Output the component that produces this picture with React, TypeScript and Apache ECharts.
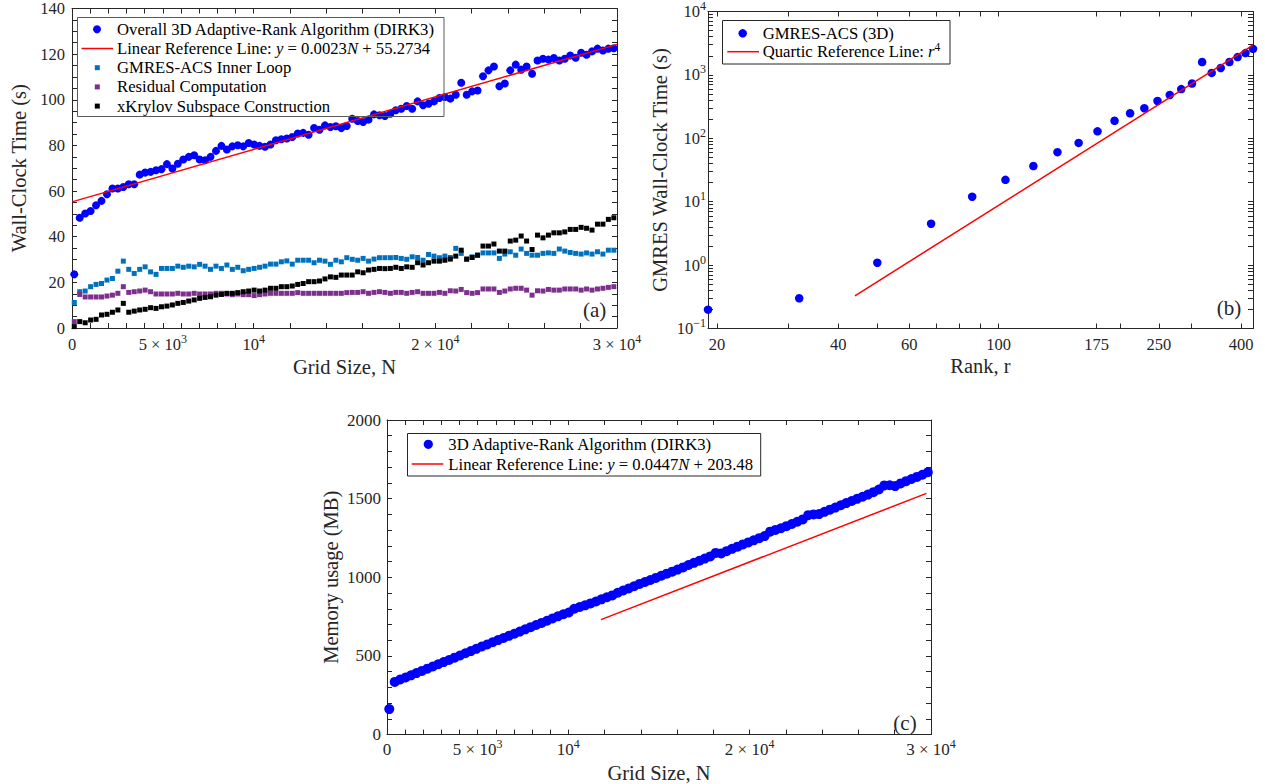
import React, { useEffect, useRef } from 'react';
import * as echarts from 'echarts';

// ---------------- DATA ----------------
// Panel (a) & (c): grid sizes N
const gridSizes = [
  125, 425, 725, 1025, 1325, 1625, 1925, 2225, 2525, 2825,
  3125, 3425, 3725, 4025, 4325, 4625, 4925, 5225, 5525, 5825,
  6125, 6425, 6725, 7025, 7325, 7625, 7925, 8225, 8525, 8825,
  9125, 9425, 9725, 10025, 10325, 10625, 10925, 11225, 11525, 11825,
  12125, 12425, 12725, 13025, 13325, 13625, 13925, 14225, 14525, 14825,
  15125, 15425, 15725, 16025, 16325, 16625, 16925, 17225, 17525, 17825,
  18125, 18425, 18725, 19025, 19325, 19625, 19925, 20225, 20525, 20825,
  21125, 21425, 21725, 22025, 22325, 22625, 22925, 23225, 23525, 23825,
  24125, 24425, 24725, 25025, 25325, 25625, 25925, 26225, 26525, 26825,
  27125, 27425, 27725, 28025, 28325, 28625, 28925, 29225, 29525, 29825,
];

const overallTime = [
  23.5, 48.3, 50.2, 51.3, 53.8, 55.7, 58.6, 61.1, 61.1, 61.8,
  63.0, 63.0, 67.2, 68.1, 68.4, 69.1, 69.6, 71.8, 69.9, 72.0,
  73.8, 75.0, 75.7, 73.8, 73.5, 75.0, 77.6, 79.8, 78.2, 79.6,
  80.1, 79.6, 81.1, 80.4, 79.8, 79.4, 80.4, 82.3, 82.7, 83.0,
  83.7, 85.2, 85.5, 84.7, 87.6, 86.9, 88.8, 88.1, 88.4, 87.6,
  88.5, 91.7, 90.7, 90.3, 91.3, 93.6, 93.2, 92.9, 93.9, 95.4,
  96.1, 97.3, 96.1, 99.3, 97.6, 98.3, 99.3, 100.8, 101.2, 100.5,
  102.2, 107.5, 102.2, 103.7, 104.1, 110.3, 112.9, 114.6, 105.9, 107.1,
  112.9, 115.4, 113.2, 114.6, 111.4, 117.2, 118.0, 117.6, 118.3, 117.2,
  118.0, 119.4, 118.4, 120.6, 119.7, 121.2, 122.4, 121.6, 122.4, 122.6,
];

const gmresInnerTime = [
  11.2, 15.9, 16.2, 18.1, 19.1, 19.5, 21.0, 21.7, 24.9, 29.3,
  25.7, 23.9, 25.7, 26.8, 24.6, 23.5, 26.1, 26.1, 26.1, 27.1,
  26.6, 27.1, 26.8, 27.9, 27.1, 25.7, 27.1, 26.1, 27.6, 25.7,
  26.6, 25.1, 25.7, 26.1, 26.6, 27.1, 28.0, 28.0, 29.0, 29.4,
  28.0, 29.7, 29.7, 29.7, 28.6, 29.7, 29.3, 27.9, 29.7, 29.0,
  30.8, 30.1, 29.7, 30.5, 29.3, 30.2, 30.8, 30.8, 30.8, 30.9,
  30.5, 30.1, 31.2, 30.9, 29.7, 32.2, 31.5, 30.8, 31.5, 30.9,
  34.9, 32.7, 30.1, 31.2, 31.9, 32.9, 32.9, 32.9, 30.5, 32.4,
  33.4, 31.9, 34.6, 32.7, 31.9, 31.9, 32.7, 32.9, 32.7, 34.6,
  33.7, 33.1, 32.7, 32.4, 32.9, 32.4, 33.4, 32.4, 34.1, 34.1,
];

const residualTime = [
  2.8, 14.7, 13.6, 13.6, 13.6, 13.6, 14.0, 14.4, 15.2, 18.1,
  15.6, 15.9, 16.2, 16.6, 15.9, 14.9, 14.9, 14.9, 14.9, 15.2,
  14.9, 14.9, 15.2, 14.9, 14.9, 14.9, 15.2, 15.2, 14.9, 14.6,
  14.9, 14.6, 14.6, 14.2, 14.6, 14.9, 15.2, 15.2, 15.2, 15.2,
  15.2, 15.5, 15.2, 15.2, 15.2, 15.2, 15.2, 15.2, 15.2, 15.2,
  15.5, 15.6, 15.6, 15.9, 15.2, 15.6, 15.9, 15.6, 15.2, 15.6,
  15.6, 15.2, 15.6, 15.9, 15.2, 15.2, 15.2, 15.6, 15.2, 16.3,
  16.2, 16.9, 15.5, 15.2, 15.5, 17.1, 17.1, 17.1, 15.6, 16.2,
  17.1, 17.4, 17.4, 16.6, 14.4, 16.3, 16.2, 16.9, 16.6, 16.6,
  17.1, 17.1, 17.1, 16.6, 17.1, 16.6, 17.1, 17.4, 17.8, 18.1,
];

const krylovTime = [
  0.6, 2.8, 2.3, 3.5, 3.8, 5.7, 6.0, 6.9, 7.9, 10.8,
  6.9, 7.4, 7.9, 8.2, 8.9, 8.6, 9.3, 9.6, 10.1, 10.8,
  11.2, 11.8, 12.3, 13.0, 13.4, 13.7, 14.4, 14.7, 15.2, 15.2,
  15.5, 15.9, 16.2, 16.6, 16.2, 16.6, 17.4, 17.4, 18.1, 18.1,
  18.4, 19.1, 19.5, 20.3, 20.3, 20.6, 21.5, 22.4, 22.2, 23.2,
  23.2, 23.2, 24.6, 24.2, 25.4, 25.7, 26.1, 26.0, 26.1, 26.6,
  26.1, 26.8, 26.6, 28.6, 27.6, 28.6, 29.3, 29.3, 29.7, 30.2,
  31.5, 34.1, 30.2, 30.9, 31.9, 35.9, 35.9, 36.8, 33.7, 33.7,
  38.1, 38.5, 40.3, 38.1, 34.4, 40.7, 39.5, 40.7, 41.7, 41.7,
  42.1, 43.2, 43.2, 44.1, 43.7, 42.9, 45.5, 45.5, 47.6, 48.3,
];

// Linear reference line (a): y = 0.0023N + 55.2734
const refLineAN = [0, 30000];
const refLineAT = [55.2734, 124.2734];

// Panel (b)
const ranks = [19, 32, 50, 68, 86, 104, 122, 140, 158, 176, 194, 212, 230, 248, 266, 284, 302, 320, 338, 356, 374, 392, 410, 428];
const gmresTimes = [0.198, 0.30, 1.09, 4.49, 11.97, 22.1, 36.5, 60.4, 84.5, 128.6, 189, 248, 298, 388, 482, 597, 731, 1596, 1075, 1285, 1596, 1910, 2208, 2578];
const refLineBRank = [44, 428];
const refLineBTime = [0.328, 2938];

// Panel (c)
const memoryUsage = [
  162, 335, 350, 363, 377, 391, 405, 419, 433, 447,
  461, 474, 489, 503, 517, 531, 545, 560, 573, 587,
  601, 614, 628, 641, 655, 669, 683, 697, 710, 724,
  738, 752, 765, 776, 800, 811, 822, 834, 846, 860,
  873, 885, 902, 916, 929, 943, 958, 970, 983, 996,
  1010, 1023, 1036, 1049, 1063, 1078, 1092, 1105, 1119, 1133,
  1155, 1152, 1166, 1181, 1195, 1209, 1222, 1235, 1249, 1262,
  1290, 1301, 1312, 1325, 1339, 1353, 1368, 1395, 1400, 1402,
  1416, 1430, 1443, 1458, 1472, 1485, 1499, 1512, 1526, 1541,
  1558, 1584, 1585, 1580, 1597, 1611, 1625, 1638, 1652, 1668,
];
// Linear reference line (c): y = 0.0447N + 203.48
const refLineCN = [11800, 29750];
const refLineCMem = [730.9, 1533.3];

// Ticks
const gridTicks = [0, 1000, 2000, 3000, 4000, 5000, 6000, 7000, 8000, 9000, 10000, 12000, 14000, 16000, 18000, 20000, 22000, 24000, 26000, 28000, 30000];
const gridTickLabels = [0, 5000, 10000, 20000, 30000];
const timeTicksA = [0, 5, 10, 15, 20, 25, 30, 35, 40, 45, 50, 55, 60, 65, 70, 75, 80, 85, 90, 95, 100, 105, 110, 115, 120, 125, 130, 135, 140];
const timeLabelsA = [0, 20, 40, 60, 80, 100, 120, 140];
const memTicks = [0, 100, 200, 300, 400, 500, 600, 700, 800, 900, 1000, 1100, 1200, 1300, 1400, 1500, 1600, 1700, 1800, 1900, 2000];
const memLabels = [0, 500, 1000, 1500, 2000];
const rankTicks = [20, 30, 40, 50, 60, 70, 80, 90, 100, 175, 200, 250, 300, 400];
const rankTickLabels = [20, 40, 60, 100, 175, 250, 400];
const gmresDecades = [-1, 0, 1, 2, 3, 4];
const decadeMantissas = [1, 2, 3, 4, 5, 6, 7, 8, 9];

// ---------------- STYLE ----------------
const FONT = "'Liberation Serif', 'Times New Roman', serif";
const AX = '#262626';
const BLUE = '#0000FF';
const RED = '#FF0000';

const richFor = (size: number) => ({
  n: { fontFamily: FONT, fontSize: size, color: AX, lineHeight: 24 },
  s: { fontFamily: FONT, fontSize: Math.round(size * 0.7), color: AX, lineHeight: 13, padding: [0, 0, 11, 0] },
});

const gridLabel = (v: number) => {
  const r = Math.round(v);
  if (r === 0) return '{n|0}';
  if (r === 5000) return '{n|5 × 10}{s|3}';
  if (r === 10000) return '{n|10}{s|4}';
  return `{n|${r / 10000} × 10}{s|4}`;
};

const log10 = (v: number) => Math.log10(v);

function axisPair(kind: 'x' | 'y', cfg: any) {
  const common: any = {
    type: 'value',
    gridIndex: cfg.grid,
    min: cfg.min,
    max: cfg.max,
    axisLine: { show: true, onZero: false, lineStyle: { color: AX, width: 1 } },
    axisTick: { show: true, inside: true, length: 5, customValues: cfg.ticks, lineStyle: { color: AX, width: 1 } },
    splitLine: { show: false },
    minorTick: { show: false },
  };
  const main: any = {
    ...common,
    position: kind === 'x' ? 'bottom' : 'left',
    axisLabel: {
      show: true,
      customValues: cfg.labels,
      formatter: cfg.fmt,
      margin: cfg.margin,
      color: AX,
      fontFamily: FONT,
      fontSize: cfg.size,
      rich: richFor(cfg.size),
    },
    name: cfg.name,
    nameLocation: 'middle',
    nameGap: cfg.nameGap,
    nameRotate: kind === 'y' ? 90 : 0,
    nameTextStyle: { fontFamily: FONT, fontSize: cfg.nameSize, color: AX },
  };
  const mirror: any = {
    ...common,
    position: kind === 'x' ? 'top' : 'right',
    axisLabel: { show: false },
  };
  return [main, mirror];
}

// decade minor ticks for (b)
const gmresYTicks: number[] = [];
gmresDecades.forEach((k) => {
  if (k === 4) { gmresYTicks.push(4); return; }
  decadeMantissas.forEach((m) => gmresYTicks.push(log10(m) + k));
});

const legendRich = {
  n: { fontFamily: FONT, fontSize: 16.7, fill: '#000' },
  i: { fontFamily: FONT, fontSize: 16.7, fontStyle: 'italic', fill: '#000' },
  s: { fontFamily: FONT, fontSize: 11.5, fill: '#000', padding: [0, 0, 10, 0] },
};

function legendText(x: number, y: number, text: string) {
  return {
    type: 'text',
    x,
    y,
    style: { text, rich: legendRich, fontFamily: FONT, fontSize: 16.7, fill: '#000', verticalAlign: 'middle', align: 'left' },
    z: 10,
  };
}

export default function App() {
  const ref = useRef<HTMLDivElement>(null);

  useEffect(() => {
    const chart = echarts.init(ref.current!, null, { renderer: 'svg', width: 1265, height: 784 });

    const xA = axisPair('x', { grid: 0, min: 0, max: 30000, ticks: gridTicks, labels: gridTickLabels, fmt: gridLabel, margin: 4, size: 16.5, name: 'Grid Size, N', nameGap: 27, nameSize: 20.5 });
    const yA = axisPair('y', { grid: 0, min: 0, max: 140, ticks: timeTicksA, labels: timeLabelsA, fmt: (v: number) => `{n|${v}}`, margin: 7, size: 16.5, name: 'Wall-Clock Time (s)', nameGap: 43, nameSize: 20.5 });

    const xB = axisPair('x', { grid: 1, min: log10(ranks[0]), max: log10(ranks[ranks.length - 1]), ticks: rankTicks.map(log10), labels: rankTickLabels.map(log10), fmt: (v: number) => `{n|${Math.round(Math.pow(10, v))}}`, margin: 4, size: 16.5, name: 'Rank, r', nameGap: 27, nameSize: 20.5 });
    const yB = axisPair('y', { grid: 1, min: -1, max: 4, ticks: gmresYTicks, labels: gmresDecades, fmt: (v: number) => `{n|10}{s|${v < 0 ? '−' + Math.round(-v) : Math.round(v)}}`, margin: 2, size: 16.5, name: 'GMRES Wall-Clock Time (s)', nameGap: 38, nameSize: 20.5 });

    const xC = axisPair('x', { grid: 2, min: 0, max: 30000, ticks: gridTicks, labels: gridTickLabels, fmt: gridLabel, margin: 3, size: 17, name: 'Grid Size, N', nameGap: 20, nameSize: 20.5 });
    const yC = axisPair('y', { grid: 2, min: 0, max: 2000, ticks: memTicks, labels: memLabels, fmt: (v: number) => `{n|${v}}`, margin: 6, size: 17, name: 'Memory usage (MB)', nameGap: 46, nameSize: 20.5 });

    const option: any = {
      animation: false,
      backgroundColor: '#ffffff',
      grid: [
        { left: 72, top: 8, width: 545, height: 320 },
        { left: 708, top: 8, width: 545, height: 320.5 },
        { left: 387, top: 420, width: 544, height: 321 },
      ],
      xAxis: [...xA, ...xB, ...xC],
      yAxis: [...yA, ...yB, ...yC],
      series: [
        {
          name: 'Overall 3D Adaptive-Rank Algorithm (DIRK3)',
          type: 'scatter', xAxisIndex: 0, yAxisIndex: 0, clip: false,
          symbol: 'circle', symbolSize: 8,
          itemStyle: { color: BLUE, opacity: 1 },
          data: gridSizes.map((n, i) => [n, overallTime[i]]),
        },
        {
          name: 'Linear Reference Line A',
          type: 'line', xAxisIndex: 0, yAxisIndex: 0, clip: false,
          showSymbol: false, symbol: 'none',
          lineStyle: { color: RED, width: 1.5 },
          data: refLineAN.map((n, i) => [n, refLineAT[i]]),
        },
        {
          name: 'GMRES-ACS Inner Loop',
          type: 'scatter', xAxisIndex: 0, yAxisIndex: 0, clip: false,
          symbol: 'rect', symbolSize: 5,
          itemStyle: { color: '#0072BD', opacity: 1 },
          data: gridSizes.map((n, i) => [n, gmresInnerTime[i]]),
        },
        {
          name: 'Residual Computation',
          type: 'scatter', xAxisIndex: 0, yAxisIndex: 0, clip: false,
          symbol: 'rect', symbolSize: 5,
          itemStyle: { color: '#7E2F8E', opacity: 1 },
          data: gridSizes.map((n, i) => [n, residualTime[i]]),
        },
        {
          name: 'xKrylov Subspace Construction',
          type: 'scatter', xAxisIndex: 0, yAxisIndex: 0, clip: false,
          symbol: 'rect', symbolSize: 5,
          itemStyle: { color: '#000000', opacity: 1 },
          data: gridSizes.map((n, i) => [n, krylovTime[i]]),
        },
        {
          name: 'GMRES-ACS (3D)',
          type: 'scatter', xAxisIndex: 2, yAxisIndex: 2, clip: false,
          symbol: 'circle', symbolSize: 8.5,
          itemStyle: { color: BLUE, opacity: 1 },
          data: ranks.map((r, i) => [log10(r), log10(gmresTimes[i])]),
        },
        {
          name: 'Quartic Reference Line',
          type: 'line', xAxisIndex: 2, yAxisIndex: 2, clip: false,
          showSymbol: false, symbol: 'none',
          lineStyle: { color: RED, width: 1.5 },
          data: refLineBRank.map((r, i) => [log10(r), log10(refLineBTime[i])]),
        },
        {
          name: '3D Adaptive-Rank Algorithm (DIRK3)',
          type: 'scatter', xAxisIndex: 4, yAxisIndex: 4, clip: false,
          symbol: 'circle', symbolSize: 10,
          itemStyle: { color: BLUE, opacity: 1 },
          data: gridSizes.map((n, i) => [n, memoryUsage[i]]),
        },
        {
          name: 'Linear Reference Line C',
          type: 'line', xAxisIndex: 4, yAxisIndex: 4, clip: false,
          showSymbol: false, symbol: 'none',
          lineStyle: { color: RED, width: 1.5 },
          data: refLineCN.map((n, i) => [n, refLineCMem[i]]),
        },
      ],
      graphic: [
        // Legend (a)
        { type: 'rect', shape: { x: 77.5, y: 17.5, width: 366.5, height: 99 }, style: { fill: 'none', stroke: '#5a5a5a', lineWidth: 1 }, z: 9 },
        { type: 'circle', shape: { cx: 97, cy: 29.3, r: 4 }, style: { fill: BLUE }, z: 10 },
        { type: 'line', shape: { x1: 81.5, y1: 48.5, x2: 113, y2: 48.5 }, style: { stroke: RED, lineWidth: 1.5 }, z: 10 },
        { type: 'rect', shape: { x: 94.8, y: 65.2, width: 5, height: 5 }, style: { fill: '#0072BD' }, z: 10 },
        { type: 'rect', shape: { x: 94.8, y: 84.4, width: 5, height: 5 }, style: { fill: '#7E2F8E' }, z: 10 },
        { type: 'rect', shape: { x: 94.8, y: 103.6, width: 5, height: 5 }, style: { fill: '#000000' }, z: 10 },
        legendText(117, 29.3, '{n|Overall 3D Adaptive-Rank Algorithm (DIRK3)}'),
        legendText(117, 48.5, '{n|Linear Reference Line: }{i|y}{n| = 0.0023}{i|N}{n| + 55.2734}'),
        legendText(117, 67.7, '{n|GMRES-ACS Inner Loop}'),
        legendText(117, 86.9, '{n|Residual Computation}'),
        legendText(117, 106.1, '{n|xKrylov Subspace Construction}'),
        // Legend (b)
        { type: 'rect', shape: { x: 722.5, y: 20.5, width: 227.5, height: 43.5 }, style: { fill: '#fff', stroke: AX, lineWidth: 1 }, z: 9 },
        { type: 'circle', shape: { cx: 742.7, cy: 33.3, r: 4.2 }, style: { fill: BLUE }, z: 10 },
        { type: 'line', shape: { x1: 727.3, y1: 51.7, x2: 759, y2: 51.7 }, style: { stroke: RED, lineWidth: 1.5 }, z: 10 },
        legendText(762.7, 33.3, '{n|GMRES-ACS (3D)}'),
        legendText(762.7, 51.7, '{n|Quartic Reference Line: }{i|r}{s|4}'),
        // Legend (c)
        { type: 'rect', shape: { x: 407.5, y: 433.5, width: 353.2, height: 42.5 }, style: { fill: '#fff', stroke: AX, lineWidth: 1 }, z: 9 },
        { type: 'circle', shape: { cx: 428.3, cy: 444.3, r: 4.6 }, style: { fill: BLUE }, z: 10 },
        { type: 'line', shape: { x1: 411.7, y1: 464, x2: 443.3, y2: 464 }, style: { stroke: RED, lineWidth: 1.5 }, z: 10 },
        legendText(448.3, 444.3, '{n|3D Adaptive-Rank Algorithm (DIRK3)}'),
        legendText(448.3, 464, '{n|Linear Reference Line: }{i|y}{n| = 0.0447}{i|N}{n| + 203.48}'),
        // Panel letters
        { type: 'text', x: 594.7, y: 310, style: { text: '(a)', fontFamily: FONT, fontSize: 21, fill: AX, align: 'center', verticalAlign: 'middle' }, z: 10 },
        { type: 'text', x: 1229, y: 307.5, style: { text: '(b)', fontFamily: FONT, fontSize: 21, fill: AX, align: 'center', verticalAlign: 'middle' }, z: 10 },
        { type: 'text', x: 905, y: 722.5, style: { text: '(c)', fontFamily: FONT, fontSize: 21, fill: AX, align: 'center', verticalAlign: 'middle' }, z: 10 },
      ],
    };

    chart.setOption(option);
    return () => chart.dispose();
  }, []);

  return (
    <div
      ref={ref}
      style={{ position: 'absolute', left: 0, top: 0, width: 1265, height: 784, background: '#ffffff' }}
    />
  );
}
